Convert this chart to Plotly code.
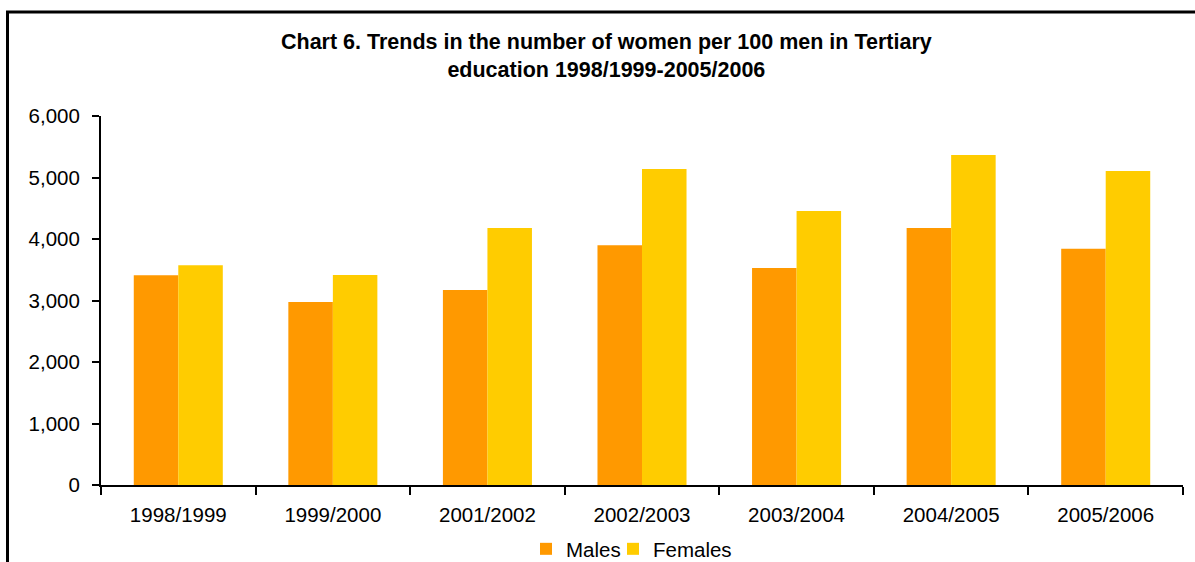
import plotly.graph_objects as go

years = ["1998/1999", "1999/2000", "2001/2002", "2002/2003", "2003/2004", "2004/2005", "2005/2006"]
males = [3410, 2975, 3170, 3900, 3530, 4180, 3840]
females = [3575, 3415, 4180, 5140, 4455, 5365, 5105]

W, H = 1195, 562
L, R, T, B = 101, 12, 116, 77
pw = W - L - R
ph = H - T - B

def px_x(x):
    return (x - L) / pw

def px_y(y):
    return (H - B - y) / ph

fig = go.Figure()
fig.add_trace(go.Bar(name="Males", x=years, y=males, legendwidth=42,
                     marker=dict(color="#FF9900", line=dict(width=0))))
fig.add_trace(go.Bar(name="Females", x=years, y=females, legendwidth=90,
                     marker=dict(color="#FFCC00", line=dict(width=0))))

fig.update_layout(
    width=W, height=H,
    margin=dict(l=L, r=R, t=T, b=B, autoexpand=False),
    paper_bgcolor="white", plot_bgcolor="white",
    barmode="group", bargap=0.424, bargroupgap=0,
    font=dict(family="Liberation Sans, Arial, sans-serif", size=20.5, color="black"),
    showlegend=True,
    legend=dict(orientation="h", x=px_x(526), xanchor="left", y=px_y(549), yanchor="middle",
                font=dict(size=20.5), itemwidth=30, entrywidthmode="pixels",
                tracegroupgap=0, bgcolor="rgba(0,0,0,0)"),
    annotations=[dict(text="<b>Chart 6. Trends in the number of women per 100 men in Tertiary<br>education 1998/1999-2005/2006</b>",
                      xref="paper", yref="paper", x=px_x(606), y=px_y(56), xanchor="center", yanchor="middle",
                      showarrow=False, font=dict(size=21.5), align="center")],
    shapes=[dict(type="rect", xref="paper", yref="paper", x0=px_x(7.5), y0=px_y(12), x1=px_x(1240), y1=px_y(620),
                 line=dict(color="black", width=3), fillcolor="rgba(0,0,0,0)", layer="above")],
)

fig.update_xaxes(showline=True, linecolor="black", linewidth=2, ticks="outside", ticklen=8, tickwidth=2,
                 tickcolor="black", tickson="boundaries", showgrid=False, tickfont=dict(size=20.5),
                 ticklabelstandoff=10)
fig.update_yaxes(range=[0, 6000], dtick=1000, tickformat=",", showline=True, linecolor="black", linewidth=2,
                 ticks="outside", ticklen=7, tickwidth=2, tickcolor="black", showgrid=False, zeroline=False,
                 tickfont=dict(size=20.5), ticklabelstandoff=8)

fig.write_html("out.html", config={"displayModeBar": False},
               post_script="document.body.style.margin='0';document.body.style.overflow='hidden';")
